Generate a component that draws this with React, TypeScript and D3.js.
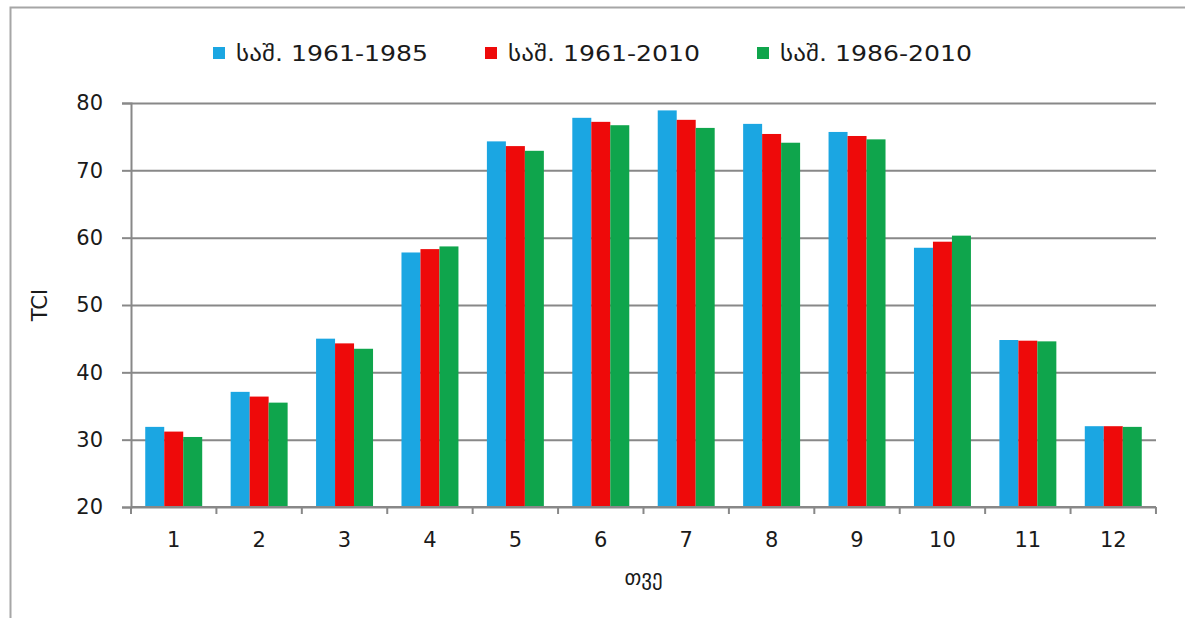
import React, { useEffect, useRef } from 'react';
import * as d3 from 'd3';

// months 1..12
const months = ['1', '2', '3', '4', '5', '6', '7', '8', '9', '10', '11', '12'];
const seriesNames = ['საშ. 1961-1985', 'საშ. 1961-2010', 'საშ. 1986-2010'];
const avg1961_1985 = [31.9, 37.1, 45.0, 57.8, 74.3, 77.8, 78.9, 76.9, 75.7, 58.5, 44.8, 32.0];
const avg1961_2010 = [31.2, 36.4, 44.3, 58.3, 73.6, 77.2, 77.5, 75.4, 75.1, 59.4, 44.7, 32.0];
const avg1986_2010 = [30.4, 35.5, 43.5, 58.7, 72.9, 76.7, 76.3, 74.1, 74.6, 60.3, 44.6, 31.9];
const yTicks = [20, 30, 40, 50, 60, 70, 80];
const colors = ['#1ba6e2', '#ee0a0a', '#0fa54c'];

const W = 1185;
const H = 618;
const FONT = '"DejaVu Sans", "Noto Sans", sans-serif';

const App: React.FC = () => {
  const svgRef = useRef<SVGSVGElement>(null);

  useEffect(() => {
    if (!svgRef.current) return;
    const svg = d3.select(svgRef.current);
    svg.selectAll('*').remove();

    const margin = { top: 103, right: 29, bottom: 111, left: 131 };
    const innerWidth = W - margin.left - margin.right;
    const innerHeight = H - margin.top - margin.bottom;

    // outer frame (cut off at right/bottom like the source)
    svg.append('rect')
      .attr('x', 0).attr('y', 0).attr('width', W).attr('height', H)
      .attr('fill', '#fff');
    svg.append('rect')
      .attr('x', 10.5).attr('y', 7.5).attr('width', W + 20).attr('height', H + 20)
      .attr('fill', 'none')
      .attr('stroke', '#a6a6a6')
      .attr('stroke-width', 2);

    const g = svg.append('g')
      .attr('transform', `translate(${margin.left},${margin.top})`);

    const x0 = d3.scaleBand<string>()
      .domain(months)
      .range([0, innerWidth])
      .paddingInner(0.333)
      .paddingOuter(0.1667);

    const x1 = d3.scaleBand<number>()
      .domain([0, 1, 2])
      .range([0, x0.bandwidth()]);

    const y = d3.scaleLinear()
      .domain([20, 80])
      .range([innerHeight, 0]);

    const step = x0.step();

    // gridlines
    g.append('g')
      .call(d3.axisLeft(y).tickValues(yTicks).tickSize(-innerWidth).tickFormat(() => ''))
      .call(s => s.select('.domain').remove())
      .call(s => s.selectAll('.tick line').attr('stroke', '#888').attr('stroke-width', 2));

    // bars
    const series = [avg1961_1985, avg1961_2010, avg1986_2010];
    series.forEach((vals, si) => {
      g.selectAll(`.bar-${si}`)
        .data(vals)
        .enter()
        .append('rect')
        .attr('class', `bar-${si}`)
        .attr('x', (_, i) => (x0(months[i]) || 0) + (x1(si) || 0))
        .attr('width', x1.bandwidth())
        .attr('y', d => y(d))
        .attr('height', d => innerHeight - y(d))
        .attr('fill', colors[si]);
    });

    // y axis
    g.append('g')
      .call(d3.axisLeft(y).tickValues(yTicks).tickSize(9).tickPadding(19))
      .call(s => s.select('.domain').attr('stroke', '#888').attr('stroke-width', 2))
      .call(s => s.selectAll('.tick line').attr('stroke', '#888').attr('stroke-width', 2))
      .call(s => s.selectAll('.tick text')
        .attr('font-family', FONT)
        .attr('font-size', '21px')
        .attr('fill', '#1a1a1a'));

    // x axis: line + ticks at category boundaries
    const xAxis = g.append('g').attr('transform', `translate(0,${innerHeight})`);
    xAxis.append('line')
      .attr('x1', 0).attr('x2', innerWidth)
      .attr('stroke', '#888').attr('stroke-width', 2);
    xAxis.selectAll('.xtick')
      .data(d3.range(months.length + 1))
      .enter()
      .append('line')
      .attr('x1', i => i * step).attr('x2', i => i * step)
      .attr('y1', 0).attr('y2', 7)
      .attr('stroke', '#888').attr('stroke-width', 2);
    xAxis.selectAll('.xlabel')
      .data(months)
      .enter()
      .append('text')
      .attr('x', d => (x0(d) || 0) + x0.bandwidth() / 2)
      .attr('y', 40)
      .attr('text-anchor', 'middle')
      .attr('font-family', FONT)
      .attr('font-size', '21px')
      .attr('fill', '#1a1a1a')
      .text(d => d);

    // axis titles
    svg.append('text')
      .attr('transform', `translate(47,305) rotate(-90)`)
      .attr('text-anchor', 'middle')
      .attr('font-family', FONT)
      .attr('font-size', '21px')
      .attr('fill', '#1a1a1a')
      .text('TCI');

    svg.append('text')
      .attr('x', margin.left + innerWidth / 2)
      .attr('y', 585)
      .attr('text-anchor', 'middle')
      .attr('font-family', FONT)
      .attr('font-size', '21px')
      .attr('fill', '#1a1a1a')
      .text('თვე');

    // legend
    const legendX = [213, 485, 757];
    const legend = svg.append('g');
    seriesNames.forEach((name, i) => {
      legend.append('rect')
        .attr('x', legendX[i]).attr('y', 47)
        .attr('width', 12).attr('height', 12)
        .attr('fill', colors[i]);
      legend.append('text')
        .attr('x', legendX[i] + 23)
        .attr('y', 61)
        .attr('font-family', FONT)
        .attr('font-size', '21px')
        .attr('textLength', 192)
        .attr('lengthAdjust', 'spacingAndGlyphs')
        .attr('fill', '#1a1a1a')
        .text(name);
    });
  }, []);

  return (
    <svg
      ref={svgRef}
      width={W}
      height={H}
      style={{ position: 'absolute', left: 0, top: 0, display: 'block' }}
    />
  );
};

export default App;
